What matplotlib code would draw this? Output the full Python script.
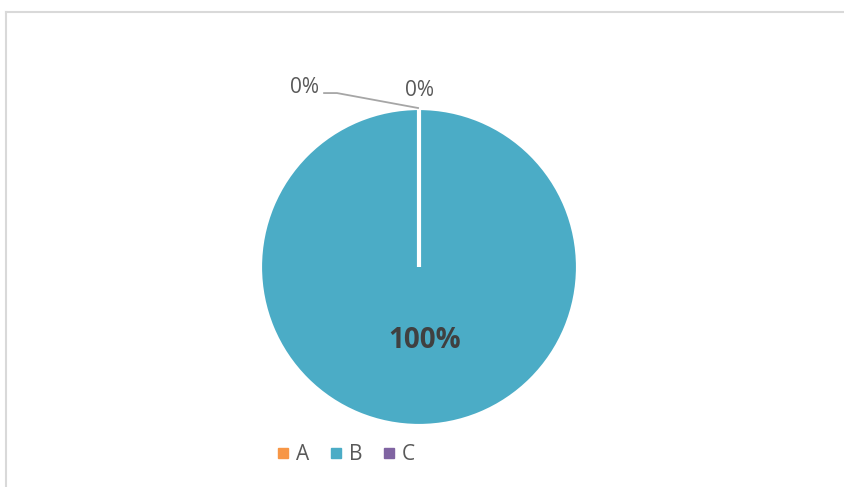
import matplotlib
matplotlib.use("Agg")
import matplotlib.pyplot as plt
from matplotlib.lines import Line2D

categories = ["A", "B", "C"]
values = [0, 100, 0]
colors = ["#F79646", "#4BACC6", "#8064A2"]

plt.rcParams['font.family'] = ['Open Sans', 'DejaVu Sans']

W, H = 844, 487
fig = plt.figure(figsize=(W / 100, H / 100), dpi=100)

# border (top and left visible)
fig.add_artist(Line2D([6 / W, 1], [1 - 12 / H, 1 - 12 / H], color="#D9D9D9", lw=1.5))
fig.add_artist(Line2D([6 / W, 6 / W], [0, 1 - 12 / H], color="#D9D9D9", lw=1.5))

cx, cy, r = 419, 267, 159
ax = fig.add_axes([(cx - r) / W, (H - cy - r) / H, 2 * r / W, 2 * r / H])
ax.pie(values, colors=colors, startangle=90, counterclock=False,
       wedgeprops=dict(edgecolor="white", linewidth=3))
ax.set_xlim(-1, 1)
ax.set_ylim(-1, 1)
ax.set_aspect("equal")
ax.axis("off")

total = sum(values)
pcts = [f"{v / total * 100:.0f}%" for v in values]
txt_color = "#595959"

# A label
ax.text(0.0, 1.113, pcts[0], ha="center", va="center", fontsize=15, color=txt_color, clip_on=False)
# C label with leader line
ax.text(-0.717, 1.132, pcts[2], ha="center", va="center", fontsize=15, color=txt_color, clip_on=False)
ax.plot([-0.597, -0.516, -0.006], [1.094, 1.094, 1.0], color="#A6A6A6", lw=1.3, clip_on=False)
# B label
ax.text(0.038, -0.46, pcts[1], ha="center", va="center", fontsize=20, fontweight="bold",
        color="#404040", clip_on=False)

handles = [Line2D([], [], marker="s", linestyle="none", markersize=6.5,
                  markerfacecolor=c, markeredgecolor=c) for c in colors]
fig.legend(handles, categories, loc="center", bbox_to_anchor=(346 / W, 32 / H), ncol=3,
           frameon=False, fontsize=15, handlelength=0.6, handletextpad=0.3,
           columnspacing=1.0, labelcolor=txt_color)

fig.savefig("out.png", dpi=100)
